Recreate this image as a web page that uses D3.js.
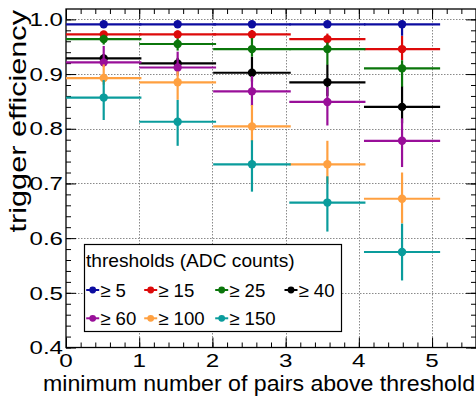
<!DOCTYPE html>
<html>
<head>
<meta charset="utf-8">
<script src="https://cdn.jsdelivr.net/npm/d3@7"></script>
<style>
  html, body { margin: 0; padding: 0; background: #fff; }
  svg { display: block; font-family: "Liberation Sans", Arial, Helvetica, sans-serif; }
</style>
</head>
<body>
<svg id="chart" width="476" height="396"></svg>
<script>
// ---------------- data ----------------
const thresholdLabels = ["\u2265 5", "\u2265 15", "\u2265 25", "\u2265 40", "\u2265 60", "\u2265 100", "\u2265 150"];
const xCenters = [0.515, 1.525, 2.54, 3.57, 4.59];
const xErrors  = [0.515, 0.525, 0.53, 0.52, 0.52];

const eff5   = [0.991, 0.991, 0.991, 0.991, 0.991];
const eff15  = [0.9726, 0.9726, 0.9726, 0.964, 0.9457];
const eff25  = [0.964, 0.955, 0.9457, 0.9457, 0.9104];
const eff40  = [0.9287, 0.9196, 0.9024, 0.885, 0.840];
const eff60  = [0.9214, 0.912, 0.8684, 0.849, 0.778];
const eff100 = [0.8927, 0.885, 0.8044, 0.735, 0.672];
const eff150 = [0.857, 0.8128, 0.735, 0.665, 0.5746];

const errUp5   = [0.004, 0.004, 0.004, 0.004, 0.004];
const errDn5   = [0.004, 0.004, 0.005, 0.006, 0.021];
const errUp15  = [0.006, 0.007, 0.008, 0.010, 0.024];
const errDn15  = [0.007, 0.008, 0.010, 0.012, 0.020];
const errUp25  = [0.008, 0.010, 0.020, 0.012, 0.015];
const errDn25  = [0.010, 0.012, 0.014, 0.029, 0.034];
const errUp40  = [0.008, 0.010, 0.029, 0.032, 0.037];
const errDn40  = [0.008, 0.012, 0.016, 0.025, 0.030];
const errUp60  = [0.030, 0.029, 0.028, 0.027, 0.041];
const errDn60  = [0.008, 0.015, 0.027, 0.043, 0.048];
const errUp100 = [0.025, 0.020, 0.039, 0.043, 0.048];
const errDn100 = [0.012, 0.032, 0.028, 0.035, 0.045];
const errUp150 = [0.032, 0.040, 0.044, 0.048, 0.052];
const errDn150 = [0.041, 0.044, 0.050, 0.053, 0.052];

const xTickValues = [0, 1, 2, 3, 4, 5];
const yTickValues = [0.4, 0.5, 0.6, 0.7, 0.8, 0.9, 1.0];
const yTickLabels = ["0.4", "0.5", "0.6", "0.7", "0.8", "0.9", "1.0"];
const xTitle = "minimum number of pairs above threshold";
const yTitle = "trigger efficiency";
const legendTitle = "thresholds (ADC counts)";

// ---------------- styles ----------------
const seriesColors = ["#0c0ca0", "#dd0a0a", "#0b760b", "#000000", "#990f99", "#ffa040", "#0a9c9c"];

const seriesValues = [eff5, eff15, eff25, eff40, eff60, eff100, eff150];
const seriesUp = [errUp5, errUp15, errUp25, errUp40, errUp60, errUp100, errUp150];
const seriesDn = [errDn5, errDn15, errDn25, errDn40, errDn60, errDn100, errDn150];

const series = thresholdLabels.map((label, i) => ({
  label, color: seriesColors[i],
  points: xCenters.map((xv, j) => ({ x: xv, xe: xErrors[j], y: seriesValues[i][j], up: seriesUp[i][j], dn: seriesDn[i][j] }))
}));

// ---------------- layout ----------------
const W = 476, H = 396;
const mLeft = 66, mRight = 476, mTop = 9, mBottom = 347.5;
const x = d3.scaleLinear().domain([0, 5.6]).range([mLeft, mRight]);
const y = d3.scaleLinear().domain([0.4, 1.019]).range([mBottom, mTop]);

const svg = d3.select("#chart");
svg.append("rect").attr("width", W).attr("height", H).attr("fill", "#fff");

function stretch(sel, factor) {
  sel.each(function () {
    const w = this.getComputedTextLength();
    d3.select(this).attr("textLength", w * factor).attr("lengthAdjust", "spacingAndGlyphs");
  });
}

// grid
const grid = svg.append("g").attr("stroke", "#8a8a8a").attr("stroke-width", 1).attr("stroke-dasharray", "1.5,1.5");
grid.selectAll("line.gx").data(xTickValues.filter(v => v > 0)).join("line")
  .attr("x1", d => Math.round(x(d)) + 0.5).attr("x2", d => Math.round(x(d)) + 0.5)
  .attr("y1", mTop).attr("y2", mBottom);
grid.selectAll("line.gy").data(yTickValues.filter(v => v > 0.4)).join("line")
  .attr("x1", mLeft).attr("x2", mRight)
  .attr("y1", d => Math.round(y(d)) + 0.5).attr("y2", d => Math.round(y(d)) + 0.5);

// axes with ticks (ROOT style, inside)
const xMinor = d3.range(0, 5.61, 0.2);
const yMinor = d3.range(0.4, 1.0195, 0.02);
const axisG = svg.append("g");
function addAxis(gen, tx, ty, vals, size) {
  axisG.append("g").attr("transform", `translate(${tx},${ty})`)
    .call(gen.tickValues(vals).tickSize(size).tickFormat(""))
    .call(g => g.select(".domain").remove());
}
addAxis(d3.axisBottom(x), 0, mBottom, xMinor, -5);
addAxis(d3.axisBottom(x), 0, mBottom, xTickValues, -10);
addAxis(d3.axisTop(x), 0, mTop, xMinor, -5);
addAxis(d3.axisTop(x), 0, mTop, xTickValues, -10);
addAxis(d3.axisLeft(y), mLeft, 0, yMinor, -5);
addAxis(d3.axisLeft(y), mLeft, 0, yTickValues, -10);
addAxis(d3.axisRight(y), mRight, 0, yMinor, -5);
addAxis(d3.axisRight(y), mRight, 0, yTickValues, -10);
axisG.selectAll(".tick line").attr("stroke", "#000").attr("stroke-width", 1);

// frame
svg.append("rect").attr("x", mLeft).attr("y", mTop).attr("width", mRight - mLeft).attr("height", mBottom - mTop)
  .attr("fill", "none").attr("stroke", "#000").attr("stroke-width", 1.3);

// tick labels
const yl = svg.append("g").selectAll("text").data(yTickValues).join("text")
  .attr("x", 63).attr("y", d => y(d) + 6.7)
  .attr("text-anchor", "end").attr("font-size", 18.5).attr("fill", "#000")
  .text((d, i) => yTickLabels[i]);
stretch(yl, 1.3);
const xl = svg.append("g").selectAll("text").data(xTickValues).join("text")
  .attr("x", d => x(d)).attr("y", 367)
  .attr("text-anchor", "middle").attr("font-size", 18.2).attr("fill", "#000")
  .text(d => String(d));
stretch(xl, 1.33);

// axis titles
svg.append("text").attr("x", 475).attr("y", 391).attr("text-anchor", "end")
  .attr("font-size", 22.5).attr("fill", "#000")
  .attr("textLength", 432).attr("lengthAdjust", "spacingAndGlyphs").text(xTitle);
const yt = svg.append("text").attr("transform", "translate(26,10) rotate(-90)")
  .attr("text-anchor", "end").attr("font-size", 24.5).attr("fill", "#000").text(yTitle);
stretch(yt, 1.25);

// data
const plot = svg.append("g");
series.forEach(s => {
  const g = plot.append("g").attr("stroke", s.color).attr("fill", s.color);
  g.selectAll("line.h").data(s.points).join("line")
    .attr("x1", d => x(d.x - d.xe)).attr("x2", d => x(d.x + d.xe))
    .attr("y1", d => y(d.y)).attr("y2", d => y(d.y)).attr("stroke-width", 2.2);
  g.selectAll("line.v").data(s.points).join("line")
    .attr("x1", d => x(d.x)).attr("x2", d => x(d.x))
    .attr("y1", d => y(d.y + d.up)).attr("y2", d => y(d.y - d.dn)).attr("stroke-width", 2.2);
  g.selectAll("circle").data(s.points).join("circle")
    .attr("cx", d => x(d.x)).attr("cy", d => y(d.y)).attr("r", 4.2).attr("stroke", "none");
});

// legend
const lg = svg.append("g");
lg.append("rect").attr("x", 84.5).attr("y", 244.5).attr("width", 257).attr("height", 87)
  .attr("fill", "#fff").attr("stroke", "#000").attr("stroke-width", 1.2);
const lt = lg.append("text").attr("x", 86).attr("y", 266.5).attr("font-size", 18.6).attr("fill", "#000").text(legendTitle);
stretch(lt, 1.03);
const colX = [92.7, 150.7, 221.7, 291];
const rowY = [290, 318.3];
series.forEach((s, i) => {
  const cx = colX[i % 4], cy = rowY[Math.floor(i / 4)];
  const e = lg.append("g");
  e.append("line").attr("x1", cx - 6.5).attr("x2", cx + 6.5).attr("y1", cy).attr("y2", cy)
    .attr("stroke", s.color).attr("stroke-width", 2);
  e.append("circle").attr("cx", cx).attr("cy", cy).attr("r", 3.4).attr("fill", s.color);
  e.append("text").attr("x", cx + 7.5).attr("y", cy + 6.5).attr("font-size", 18.6).attr("fill", "#000").text(s.label);
});
</script>
</body>
</html>
